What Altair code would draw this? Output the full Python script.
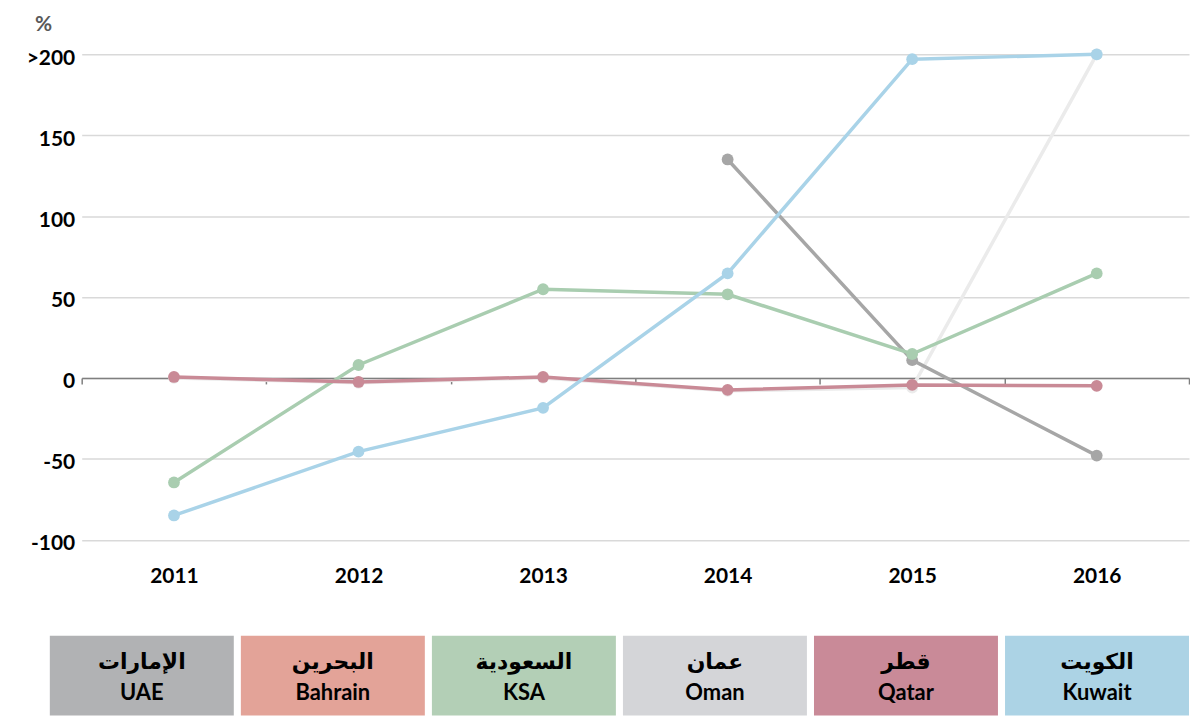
import altair as alt
import pandas as pd

years = ["2011", "2012", "2013", "2014", "2015", "2016"]

# series values (%)
kuwait = [-85, -45.5, -18.5, 64.6, 197, 200]
ksa = [-64.6, 8, 54.8, 51.7, 14.8, 64.6]
qatar = [0.6, -2.5, 0.6, -7.4, -4.3, -4.9]
uae = [None, None, None, 135, 11, -48]
oman = [0, -3, 0, -8, -6, 200]

y_ticks = [-100, -50, 0, 50, 100, 150, 200]

countries_en = ["UAE", "Bahrain", "KSA", "Oman", "Qatar", "Kuwait"]
countries_ar = ["الإمارات", "البحرين", "السعودية", "عمان", "قطر", "الكويت"]
legend_colors = ["#b1b2b4", "#e3a398", "#b3cfb6", "#d4d5d8", "#c98a98", "#acd3e5"]

# drawing order bottom -> top
series = [
    ("Oman", oman, "#ebebeb"),
    ("UAE", uae, "#a6a6a6"),
    ("KSA", ksa, "#a9cdb0"),
    ("Qatar", qatar, "#c98a96"),
    ("Kuwait", kuwait, "#a9d3e8"),
]

FONT = "Lato, 'DejaVu Sans', sans-serif"

x_scale = alt.Scale(type="band", domain=years, paddingInner=0, paddingOuter=0)
y_scale = alt.Scale(domain=[-100, 200], nice=False, zero=False)

x_axis = alt.Axis(
    title=None, offset=-162.5, tickBand="extent", tickSize=6, tickColor="#7f7f7f",
    tickWidth=1.5, domainColor="#7f7f7f", domainWidth=1.5, labelPadding=182,
    labelFont=FONT, labelFontSize=21, labelFontWeight="bold", labelColor="black",
    labelAngle=0, grid=False,
)
y_axis = alt.Axis(
    title=None, values=y_ticks,
    labelExpr="datum.value == 200 ? '>200' : toString(datum.value)",
    grid=True, gridColor="#d9d9d9", gridWidth=1.5, domain=False, ticks=False,
    labelPadding=7, labelFont=FONT, labelFontSize=21, labelFontWeight="bold",
    labelColor="black", labelOffset=4, minExtent=74, maxExtent=74,
)

layers = []
for name, vals, col in series:
    df = pd.DataFrame({"year": years, "value": vals, "country": name}).dropna()
    base = alt.Chart(df).encode(
        x=alt.X("year:N", scale=x_scale, axis=x_axis),
        y=alt.Y("value:Q", scale=y_scale, axis=y_axis),
    )
    layers.append(base.mark_line(color=col, strokeWidth=3.5))
    layers.append(base.mark_circle(color=col, size=140, opacity=1))

main = alt.layer(*layers).properties(
    width=1112, height=487.5,
    title=alt.TitleParams(
        "%", anchor="start", dx=27, color="#595959", fontSize=21,
        fontWeight="bold", font=FONT, offset=12,
    ),
)

leg_df = pd.DataFrame({
    "en": countries_en,
    "label": [a + "\n" + e for a, e in zip(countries_ar, countries_en)],
})
leg_x = alt.X("en:N", sort=countries_en,
              scale=alt.Scale(domain=countries_en, range=[-32, 1112],
                              paddingInner=0.037, paddingOuter=0),
              axis=None)
leg_base = alt.Chart(leg_df).encode(x=leg_x)
legend = alt.layer(
    leg_base.mark_rect().encode(
        color=alt.Color("en:N", scale=alt.Scale(domain=countries_en, range=legend_colors),
                        legend=None)
    ),
    leg_base.mark_text(font=FONT, fontSize=22, fontWeight="bold", color="black",
                       lineBreak="\n", lineHeight=31, dy=-14).encode(text="label:N"),
).properties(width=1112, height=80)

chart = alt.vconcat(main, legend, spacing=50).properties(
    padding={"left": 0, "top": 5, "right": 0, "bottom": 0}
).configure_view(stroke=None)

chart.save("out.html", embed_options={"renderer": "svg", "actions": False})
